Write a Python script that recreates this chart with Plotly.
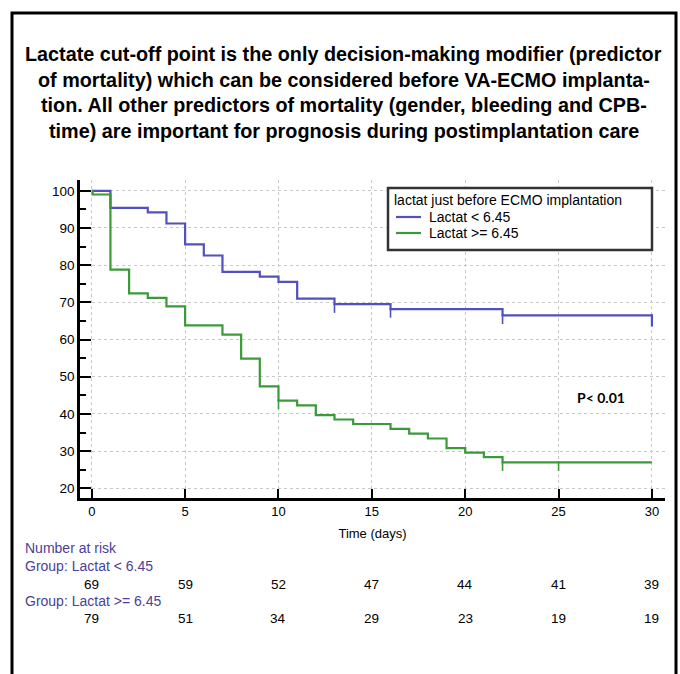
import plotly.graph_objects as go

# ---- data ----
title_lines = [
    "Lactate cut-off point is the only decision-making modifier (predictor",
    "of mortality) which can be considered before VA-ECMO implanta-",
    "tion. All other predictors of mortality (gender, bleeding and CPB-",
    "time) are important for prognosis during postimplantation care",
]
legend_title = "lactat just before ECMO implantation"
low_name = "Lactat < 6.45"
high_name = "Lactat >= 6.45"
low_t = [0, 1, 3, 4, 5, 6, 7, 9, 10, 11, 13, 16, 22, 30]
low_s = [100, 95.4, 94.2, 91.2, 85.6, 82.6, 78.2, 76.9, 75.5, 71.0, 69.5, 68.2, 66.5, 63.5]
high_t = [0, 0.05, 1, 2, 3, 4, 5, 7, 8, 9, 10, 11, 12, 13, 14, 16, 17, 18, 19, 20, 21, 22, 30]
high_s = [100, 99, 78.8, 72.4, 71.2, 68.9, 63.8, 61.3, 54.9, 47.4, 43.6, 42.3, 39.7, 38.5,
          37.3, 36.0, 34.7, 33.4, 30.8, 29.6, 28.4, 27.0, 27.0]
low_cens_t = [13, 16, 22, 30]
low_cens_s = [69.5, 68.2, 66.5, 66.5]
high_cens_t = [10, 22, 25]
high_cens_s = [43.6, 27.0, 27.0]
risk_times = [0, 5, 10, 15, 20, 25, 30]
risk_low = [69, 59, 52, 47, 44, 41, 39]
risk_high = [79, 51, 34, 29, 23, 19, 19]
p_text = "P< 0.01"

BLUE = "#5050BE"
GREEN = "#3A9A3A"
PURPLE = "#4B3F96"
FONT = "Liberation Sans, Arial, sans-serif"

# plot-area geometry (pixels)
L, R, T, B = 80, 15, 180, 176
PH = 674 - T - B
PW = 680 - L - R


def py(p):
    return (674 - B - p) / PH


def px(p):
    return (p - L) / PW


fig = go.Figure()
fig.add_trace(go.Scatter(x=low_t, y=low_s, mode="lines", line=dict(color=BLUE, width=2.2, shape="hv"),
                         name=low_name, showlegend=False))
fig.add_trace(go.Scatter(x=high_t, y=high_s, mode="lines", line=dict(color=GREEN, width=2.2, shape="hv"),
                         name=high_name, showlegend=False))
fig.add_trace(go.Scatter(x=low_cens_t, y=[s - 1.0 for s in low_cens_s], mode="markers", showlegend=False,
                         marker=dict(symbol="line-ns", size=7, line=dict(color=BLUE, width=1.6))))
fig.add_trace(go.Scatter(x=high_cens_t, y=[s - 1.0 for s in high_cens_s], mode="markers", showlegend=False,
                         marker=dict(symbol="line-ns", size=7, line=dict(color=GREEN, width=1.6))))


def text(t, x, y, size=14, color="black", anchor="left", family=FONT, xref="paper"):
    return dict(text=t, x=x, xref=xref, xanchor=anchor, y=y, yref="paper", yanchor="middle",
                showarrow=False, font=dict(family=family, size=size, color=color))


ann = []
y0 = 54
for i, line in enumerate(title_lines):
    ann.append(text("<b>" + line + "</b>", 0.5 * (px(12) + px(676)), py(y0 + i * 25.7), size=19.8,
                    anchor="center"))
ann.append(text("<b>" + p_text + "</b>", px(601), py(397), size=14, anchor="center",
                family="Lato, sans-serif"))
ann.append(text("Number at risk", px(23), py(548), color=PURPLE))
ann.append(text("Group: " + low_name, px(23), py(566), color=PURPLE))
ann.append(text("Group: " + high_name, px(23), py(601), color=PURPLE))
for t, n in zip(risk_times, risk_low):
    ann.append(text(str(n), t, py(584), size=13.5, anchor="center", xref="x"))
for t, n in zip(risk_times, risk_high):
    ann.append(text(str(n), t, py(618), size=13.5, anchor="center", xref="x"))

# legend drawn by hand
ann.append(text(legend_title, px(392), py(200), size=14))
ann.append(text(low_name, px(427), py(217), size=14))
ann.append(text(high_name, px(427), py(233), size=14))

shapes = [
    dict(type="rect", xref="paper", yref="paper", x0=px(12), x1=px(676), y0=py(700), y1=py(13),
         line=dict(color="black", width=3), fillcolor="rgba(0,0,0,0)", layer="above"),
    dict(type="rect", xref="paper", yref="paper", x0=px(388), x1=px(652), y0=py(250), y1=py(188),
         line=dict(color="#333333", width=2.5), fillcolor="white", layer="above"),
    dict(type="line", xref="paper", yref="paper", x0=px(396), x1=px(421), y0=py(217), y1=py(217),
         line=dict(color=BLUE, width=2.2), layer="above"),
    dict(type="line", xref="paper", yref="paper", x0=px(396), x1=px(421), y0=py(233), y1=py(233),
         line=dict(color=GREEN, width=2.2), layer="above"),
]

fig.update_layout(
    width=680, height=674,
    margin=dict(l=L, r=R, t=T, b=B),
    paper_bgcolor="white", plot_bgcolor="white",
    font=dict(family=FONT, size=13, color="black"),
    annotations=ann,
    shapes=shapes,
    showlegend=False,
    xaxis=dict(range=[-0.63, 30.7], tickvals=[0, 5, 10, 15, 20, 25, 30], ticks="inside", ticklen=9,
               tickwidth=1.5, tickcolor="black", showline=True, linecolor="black", linewidth=2.5,
               showgrid=True, gridcolor="#c8c8c8", griddash="dot", gridwidth=1, zeroline=False,
               title=dict(text="Time (days)", standoff=11, font=dict(size=13)), tickfont=dict(size=13)),
    yaxis=dict(range=[17.4, 102.9], tickvals=[20, 30, 40, 50, 60, 70, 80, 90, 100], ticks="inside",
               ticklen=11, tickwidth=1.5, tickcolor="black", showline=True, linecolor="black",
               linewidth=2.5, showgrid=True, gridcolor="#c8c8c8", griddash="dot", gridwidth=1,
               zeroline=False, tickfont=dict(size=13.5),
               minor=dict(tickvals=[25, 35, 45, 55, 65, 75, 85, 95], ticks="inside", ticklen=6,
                          tickcolor="black", showgrid=False)),
)

fig.write_html("out.html", post_script="document.body.style.margin='0px';",
               config={"displayModeBar": False})
